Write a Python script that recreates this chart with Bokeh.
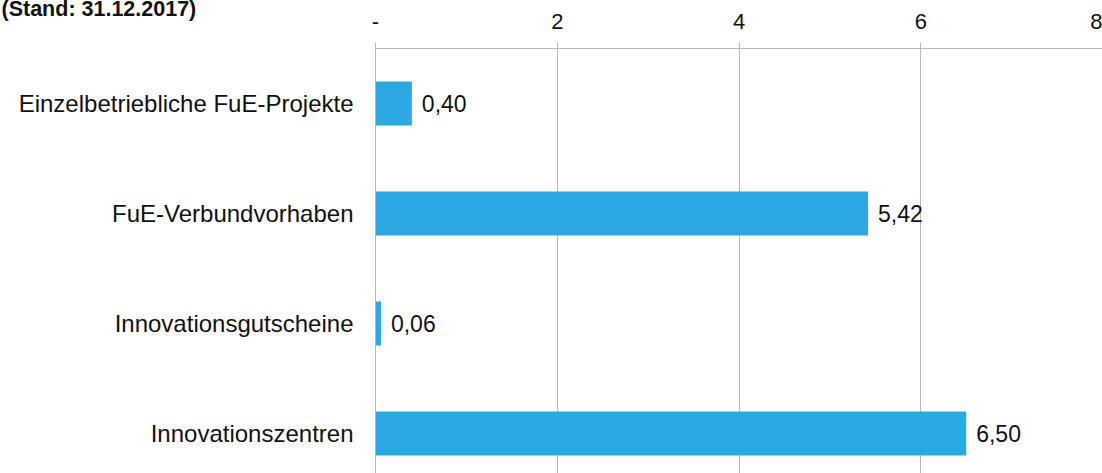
from bokeh.plotting import figure
from bokeh.models import Range1d, FixedTicker, ColumnDataSource, LabelSet
from bokeh.core.properties import value
from bokeh.embed import file_html
from bokeh.resources import INLINE

# Data
categories = ["Einzelbetriebliche FuE-Projekte", "FuE-Verbundvorhaben",
              "Innovationsgutscheine", "Innovationszentren"]
values = [0.40, 5.42, 0.06, 6.50]
x_ticks = [0, 2, 4, 6, 8]
x_tick_labels = ["-", "2", "4", "6", "8"]
title_text = "(Stand: 31.12.2017)"

FONT = "Liberation Sans"
BAR = "#29a9e0"
GRID = "#b9b9b9"

ypos = [i + 0.5 for i in range(len(categories))]
labels = [f"{v:.2f}".replace(".", ",") for v in values]
src = ColumnDataSource(dict(y=ypos, v=values, lab=labels))

p = figure(width=1102, height=473, output_backend="svg", toolbar_location=None,
           x_axis_location="above", title=title_text,
           x_range=Range1d(0, 8), y_range=Range1d(3.864, 0),
           min_border_left=375, min_border_top=48, min_border_right=0,
           min_border_bottom=0)
p.outline_line_color = None
p.background_fill_color = "white"

# title, mostly cut off at the top edge as in the reference
p.title.align = "left"
p.title.vertical_align = "bottom"
p.title.offset = -374
p.title.standoff = -20
p.title.text_font = FONT
p.title.text_font_size = "21.5px"
p.title.text_font_style = "bold"
p.title.text_color = "#111111"

p.hbar(y="y", left=0, right="v", height=0.4, color=BAR, line_color=None, source=src)

p.add_layout(LabelSet(x="v", y="y", text="lab", source=src, x_offset=10,
                      text_baseline="middle", text_align="left",
                      text_font=value(FONT), text_font_size=value("23px"),
                      text_color="#111111"))

# x axis (top)
xa = p.xaxis[0]
xa.ticker = FixedTicker(ticks=x_ticks)
xa.major_label_overrides = {t: l for t, l in zip(x_ticks, x_tick_labels)}
xa.axis_line_color = GRID
xa.major_tick_line_color = GRID
xa.major_tick_out = 6
xa.major_tick_in = 0
xa.minor_tick_line_color = None
xa.major_label_text_font = FONT
xa.major_label_text_font_size = "22px"
xa.major_label_text_color = "#111111"
xa.major_label_standoff = 14

# y axis
ya = p.yaxis[0]
ya.ticker = FixedTicker(ticks=ypos)
ya.major_label_overrides = {y: c for y, c in zip(ypos, categories)}
ya.axis_line_color = GRID
ya.major_tick_line_color = None
ya.minor_tick_line_color = None
ya.major_label_text_font = FONT
ya.major_label_text_font_size = "24px"
ya.major_label_text_color = "#111111"
ya.major_label_standoff = 16

p.xgrid.ticker = FixedTicker(ticks=x_ticks)
p.xgrid.grid_line_color = GRID
p.ygrid.grid_line_color = None

open("out.html", "w").write(file_html(p, INLINE))
